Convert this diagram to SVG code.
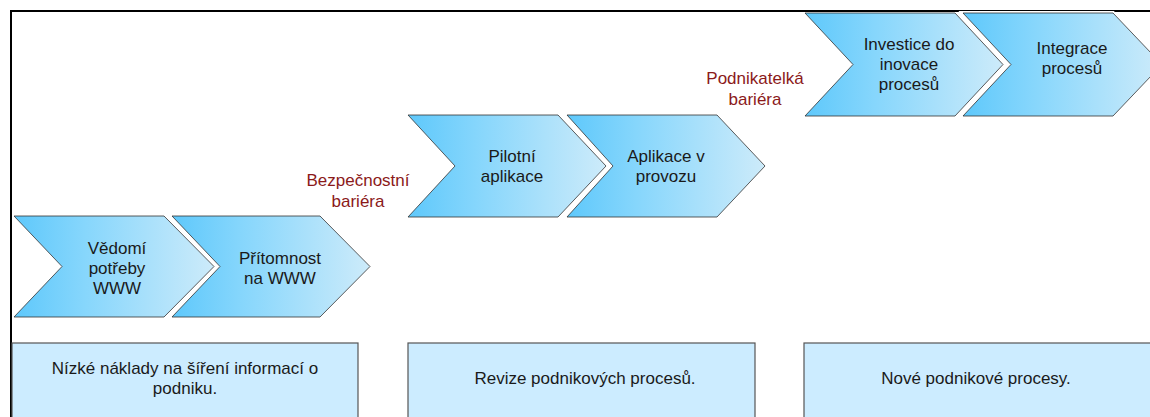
<svg xmlns="http://www.w3.org/2000/svg" width="1150" height="417" viewBox="0 0 1150 417">
  <defs>
    <linearGradient id="chevFill" x1="0" y1="0" x2="1" y2="0">
      <stop offset="0" stop-color="#5EC8FB"/>
      <stop offset="0.35" stop-color="#86D6FC"/>
      <stop offset="1" stop-color="#CDEBFA"/>
    </linearGradient>
    <style>
      .chev { fill: url(#chevFill); stroke: #333333; stroke-width: 0.8; }
      .box { fill: #CCECFF; stroke: #555555; stroke-width: 1.2; }
      .t { font-family: "Liberation Sans", Arial, sans-serif; font-size: 17px; fill: #1a1a1a; text-anchor: middle; }
      .bar { font-family: "Liberation Sans", Arial, sans-serif; font-size: 17px; fill: #8B1A1A; text-anchor: middle; }
      .frame { fill: none; stroke: #000000; stroke-width: 2; }
    </style>
  </defs>
  <rect x="0" y="0" width="1150" height="417" fill="#ffffff"/>
  <g id="frame">
    <polyline class="frame" points="11,417 11,11 1150,11"/>
  </g>
  <g id="connectors"/>

  <g id="box1">
    <rect class="box" x="12" y="343" width="346" height="90"/>
    <text class="t" x="185" y="374">Nízké náklady na šíření informací o</text>
    <text class="t" x="185" y="394">podniku.</text>
  </g>
  <g id="box2">
    <rect class="box" x="408" y="343" width="347" height="90"/>
    <text class="t" x="585" y="384">Revize podnikových procesů.</text>
  </g>
  <g id="box3">
    <rect class="box" x="804" y="343" width="360" height="90"/>
    <text class="t" x="976" y="384">Nové podnikové procesy.</text>
  </g>

  <g id="chev1">
    <polygon class="chev" points="14,216 164,216 214,266.5 164,317 14,317 62,266.5"/>
    <text class="t" x="117" y="254">Vědomí</text>
    <text class="t" x="117" y="274">potřeby</text>
    <text class="t" x="117" y="294">WWW</text>
  </g>
  <g id="chev2">
    <polygon points="172,216 320,216 370,266.5 320,317 172,317 220,266.5" fill="none" stroke="#ffffff" stroke-width="4"/>
    <polygon class="chev" points="172,216 320,216 370,266.5 320,317 172,317 220,266.5"/>
    <text class="t" x="280" y="264">Přítomnost</text>
    <text class="t" x="280" y="284">na WWW</text>
  </g>

  <g id="label-bezpecnostni">
    <text class="bar" x="358" y="186">Bezpečnostní</text>
    <text class="bar" x="358" y="207">bariéra</text>
  </g>

  <g id="chev3">
    <polygon class="chev" points="408,115 558,115 606,166 558,217 408,217 455,166"/>
    <text class="t" x="512" y="162">Pilotní</text>
    <text class="t" x="512" y="182">aplikace</text>
  </g>
  <g id="chev4">
    <polygon points="567,115 717,115 765,166 717,217 567,217 613,166" fill="none" stroke="#ffffff" stroke-width="4"/>
    <polygon class="chev" points="567,115 717,115 765,166 717,217 567,217 613,166"/>
    <text class="t" x="666" y="162">Aplikace v</text>
    <text class="t" x="666" y="182">provozu</text>
  </g>

  <g id="label-podnikatelka">
    <text class="bar" x="755" y="84">Podnikatelká</text>
    <text class="bar" x="755" y="105">bariéra</text>
  </g>

  <g id="chev5">
    <polygon class="chev" points="805,13 955,13 1003,64.5 955,116 805,116 853,64.5"/>
    <text class="t" x="909" y="50">Investice do</text>
    <text class="t" x="909" y="70">inovace</text>
    <text class="t" x="909" y="90">procesů</text>
  </g>
  <g id="chev6">
    <polygon points="963,13 1113,13 1162,64.5 1113,116 963,116 1011,64.5" fill="none" stroke="#ffffff" stroke-width="4"/>
    <polygon class="chev" points="963,13 1113,13 1162,64.5 1113,116 963,116 1011,64.5"/>
    <text class="t" x="1072" y="54">Integrace</text>
    <text class="t" x="1072" y="74">procesů</text>
  </g>
</svg>
